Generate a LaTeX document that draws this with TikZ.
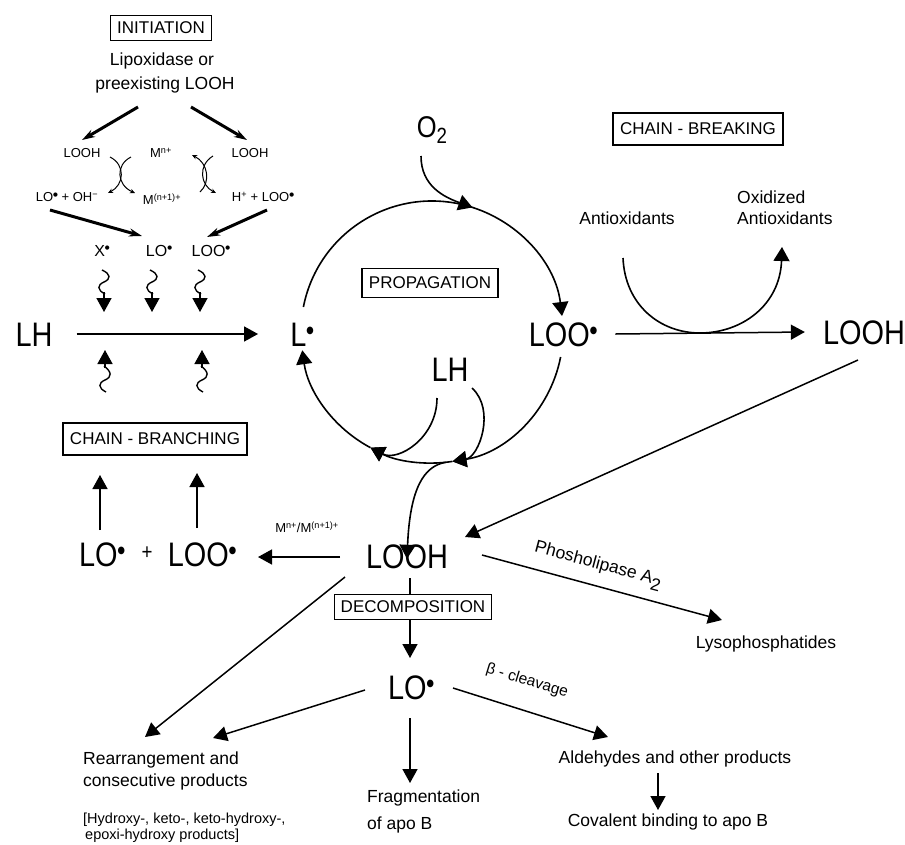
\documentclass[tikz,border=0pt]{standalone}
\usepackage{fontspec}
\setmainfont{Liberation Sans}
\newfontfamily\djf{DejaVu Sans}
\usepackage{graphicx}
\usetikzlibrary{arrows.meta,calc}
\newcommand\fsz[1]{\fontsize{#1}{#1}\selectfont}
\newcommand\rd{\raisebox{.42em}{\djf\fsz{5.5}●}}
\newcommand\Rd{\raisebox{.40em}{\djf\fsz{10}●}}
\newcommand\BL[1]{\scalebox{0.85}[1]{\fsz{34}#1}}
\tikzset{
 box/.style={draw, line width=1.3pt, inner xsep=7pt, inner ysep=0pt, minimum height=26pt, font=\fsz{17}},
 lbl/.style={inner sep=0pt, font=\fsz{17.5}},
 sm/.style={inner sep=0pt, font=\fsz{13}},
 rad/.style={inner sep=0pt, font=\fsz{16}},
 big/.style={inner sep=0pt},
 arr/.style={line width=1.5pt, -{Triangle[length=14pt,width=15pt]}},
 cyc/.style={line width=1.6pt},
 ctip/.style={-{Triangle[length=14pt,width=16pt]}},
 thk/.style={line width=3pt, -{Stealth[length=13pt,width=8pt]}},
 curly/.style={line width=1pt, -{Stealth[length=5pt,width=4.5pt]}},
 wavyd/.pic={
   \draw[line width=1.4pt] (-2,0) .. controls (7,4) and (7,9) .. (0,12) .. controls (-7,15) and (-7,20) .. (1,24);
   \draw[arr] (0,22) -- (0,42);
 },
 wavyu/.pic={
   \draw[line width=1.4pt] (1,0) .. controls (-7,-4) and (-7,-9) .. (0,-12) .. controls (7,-15) and (7,-20) .. (-1,-26);
   \draw[arr] (0,-24) -- (0,-42);
 },
}
\begin{document}
\begin{tikzpicture}[x=1pt,y=-1pt]
\useasboundingbox (0,0) rectangle (905,844);
\fill[white] (0,0) rectangle (905,844);

% ---------- Initiation ----------
\node[box, minimum height=25pt] (init) at (161,28) {INITIATION};
\node[lbl] (lipo1) at (162,61) {Lipoxidase or};
\node[lbl] (lipo2) at (165,85) {preexisting LOOH};
\node[sm] (loohl) at (82,153) {LOOH};
\node[sm] (mn) at (161,153) {M\textsuperscript{n+}};
\node[sm] (loohr) at (250,153) {LOOH};
\node[sm] (looh) at (67,197) {LO\rd{} + OH\textsuperscript{−}};
\node[sm] (mn1) at (162,199) {M\textsuperscript{(n+1)+}};
\node[sm] (hloo) at (263,197) {H\textsuperscript{+} + LOO\rd};
\node[rad] (xr) at (102,251) {X\rd};
\node[rad] (lor) at (159,251) {LO\rd};
\node[rad] (loor) at (211,251) {LOO\rd};

\coordinate (t1) at (138,107); \coordinate (t1e) at (82,140);
\coordinate (t2) at (191,107); \coordinate (t2e) at (247,140);
\draw[thk] (t1) -- (t1e);
\draw[thk] (t2) -- (t2e);
\coordinate (t3) at (50,210); \coordinate (t3e) at (142,236);
\coordinate (t4) at (267,210); \coordinate (t4e) at (207,237);
\draw[thk] (t3) -- (t3e);
\draw[thk] (t4) -- (t4e);

% metal cycle curly arrows
\draw[curly] (110,157) .. controls (126,165) and (124,185) .. (108,193);
\draw[curly] (131,157) .. controls (115,165) and (117,185) .. (135,193);
\draw[curly] (200,192) .. controls (211,182) and (208,163) .. (192,155);
\draw[curly] (213,156) .. controls (198,165) and (200,185) .. (216,193);

% wavy arrows
\pic at (104,270) {wavyd};
\pic at (152,270) {wavyd};
\pic at (200,270) {wavyd};
\pic at (105,392) {wavyu};
\pic at (202,392) {wavyu};

% ---------- main row ----------
\node[big] (lh) at (34,335) {\BL{LH}};
\node[big] (ldot) at (302,335) {\BL{L\Rd}};
\node[big] (loo) at (563,335) {\BL{LOO\Rd}};
\node[big] (loohR) at (864,333) {\BL{LOOH}};
\draw[arr] (lh.east) ++(24,-1) -- ([xshift=-32pt,yshift=1pt]ldot.west);
\draw[arr] ([xshift=18pt,yshift=1pt]loo.east) -- ([xshift=-18pt,yshift=1pt]loohR.west);

% ---------- propagation cycle ----------
\coordinate (C) at (432,332);
\node[big] (o2) at (432,130) {\scalebox{0.85}[1]{\fsz{30}O\raisebox{-.22em}{\fsz{22}2}}};
\node[box, minimum height=29pt] (prop) at (430,283) {PROPAGATION};
\node[big] (lhin) at (450,370) {\BL{LH}};
\draw[cyc,ctip] ($(C)+(-169:131)$) arc[start angle=-169, end angle=-7, radius=131];
\draw[cyc,ctip] ($(C)+(11:131)$) arc[start angle=11, end angle=81, radius=131];
\draw[cyc,ctip] ($(C)+(81:131)$) arc[start angle=81, end angle=118, radius=131];
\draw[cyc,ctip] ($(C)+(118:131)$) arc[start angle=118, end angle=172, radius=131];
\coordinate (o2s) at (421,156);
\draw[cyc,ctip] (o2s) .. controls (421,186) and (444,197) .. ($(C)+(-72:131)$);
\coordinate (lh1) at (437,398);
\coordinate (lh2) at (472,388);
\draw[cyc,ctip] (lh1) .. controls (437,438) and (398,462) .. ($(C)+(118:131)$);
\draw[cyc,ctip] (lh2) .. controls (496,410) and (479,457) .. ($(C)+(81:131)$);

% ---------- chain breaking ----------
\node[box, minimum height=32pt] (cbreak) at (698,129) {CHAIN - BREAKING};
\node[lbl] (antiox) at (627,218) {Antioxidants};
\node[lbl, anchor=west] (oxid1) at (737,197) {Oxidized};
\node[lbl, anchor=west] (oxid2) at (737,218) {Antioxidants};
\coordinate (aox) at (623,258);
\draw[cyc,ctip] (aox) .. controls (625,305) and (660,333) .. (700,333) .. controls (742,333) and (780,305) .. (782,247);

% ---------- LOOH centre ----------
\node[big] (lmain) at (407,557) {\BL{LOOH}};
\draw[cyc,ctip] ($(C)+(84:131)$) .. controls (424,466) and (410,488) .. ([yshift=-14pt]lmain.north);
\coordinate (lr) at (858,360);
\draw[arr] (lr) -- (465,537);

% chain branching
\node[box, minimum height=32pt] (cbranch) at (155,439) {CHAIN - BRANCHING};
\node[big] (lob) at (102,555) {\BL{LO\Rd}};
\node[big] (plus) at (147,553) {\scalebox{0.85}[1]{\fsz{22}+}};
\node[big] (loob) at (202,555) {\BL{LOO\Rd}};
\draw[arr] (100,530) -- (100,475);
\draw[arr] (197,528) -- (197,473);
\draw[arr] (340,557) -- (258,557);
\node[sm] (mlab) at (307,527) {M\textsuperscript{n+}/M\textsuperscript{(n+1)+}};

% decomposition
\draw[arr] (410,578) -- (410,658);
\node[box, fill=white, minimum height=25pt, inner xsep=6pt] (decomp) at (413,607) {DECOMPOSITION};
\node[big] (lo) at (411,688) {\BL{LO\Rd}};

% Phospholipase
\draw[arr] (482,555) -- (722,620);
\node[lbl, rotate=-15] (phos) at (598,566) {Phosholipase A\raisebox{-.4em}{2}};
\node[lbl] (lyso) at (766,644) {Lysophosphatides};

% rearrangement
\draw[arr] (345,577) -- (145,737);
\draw[arr] (365,690) -- (213,738);
\node[lbl, anchor=west] (rea1) at (83,760) {Rearrangement and};
\node[lbl, anchor=west] (rea2) at (83,782) {consecutive products};
\node[lbl, anchor=west, font=\fsz{14.5}] (hyd1) at (83,820) {[Hydroxy-, keto-, keto-hydroxy-,};
\node[lbl, anchor=west, font=\fsz{14.5}] (hyd2) at (85,836) {epoxi-hydroxy products]};

% fragmentation
\draw[arr] (410,718) -- (410,783);
\node[lbl, anchor=west] (frag1) at (367,798) {Fragmentation};
\node[lbl, anchor=west] (frag2) at (367,825) {of apo B};

% beta cleavage
\draw[arr] (453,688) -- (608,737);
\node[lbl, rotate=-17, font=\fsz{15.5}] (beta) at (527,681) {β - cleavage};
\node[lbl] (ald) at (675,759) {Aldehydes and other products};
\draw[arr] (658,773) -- (658,810);
\node[lbl] (cov) at (668,822) {Covalent binding to apo B};
\end{tikzpicture}
\end{document}
